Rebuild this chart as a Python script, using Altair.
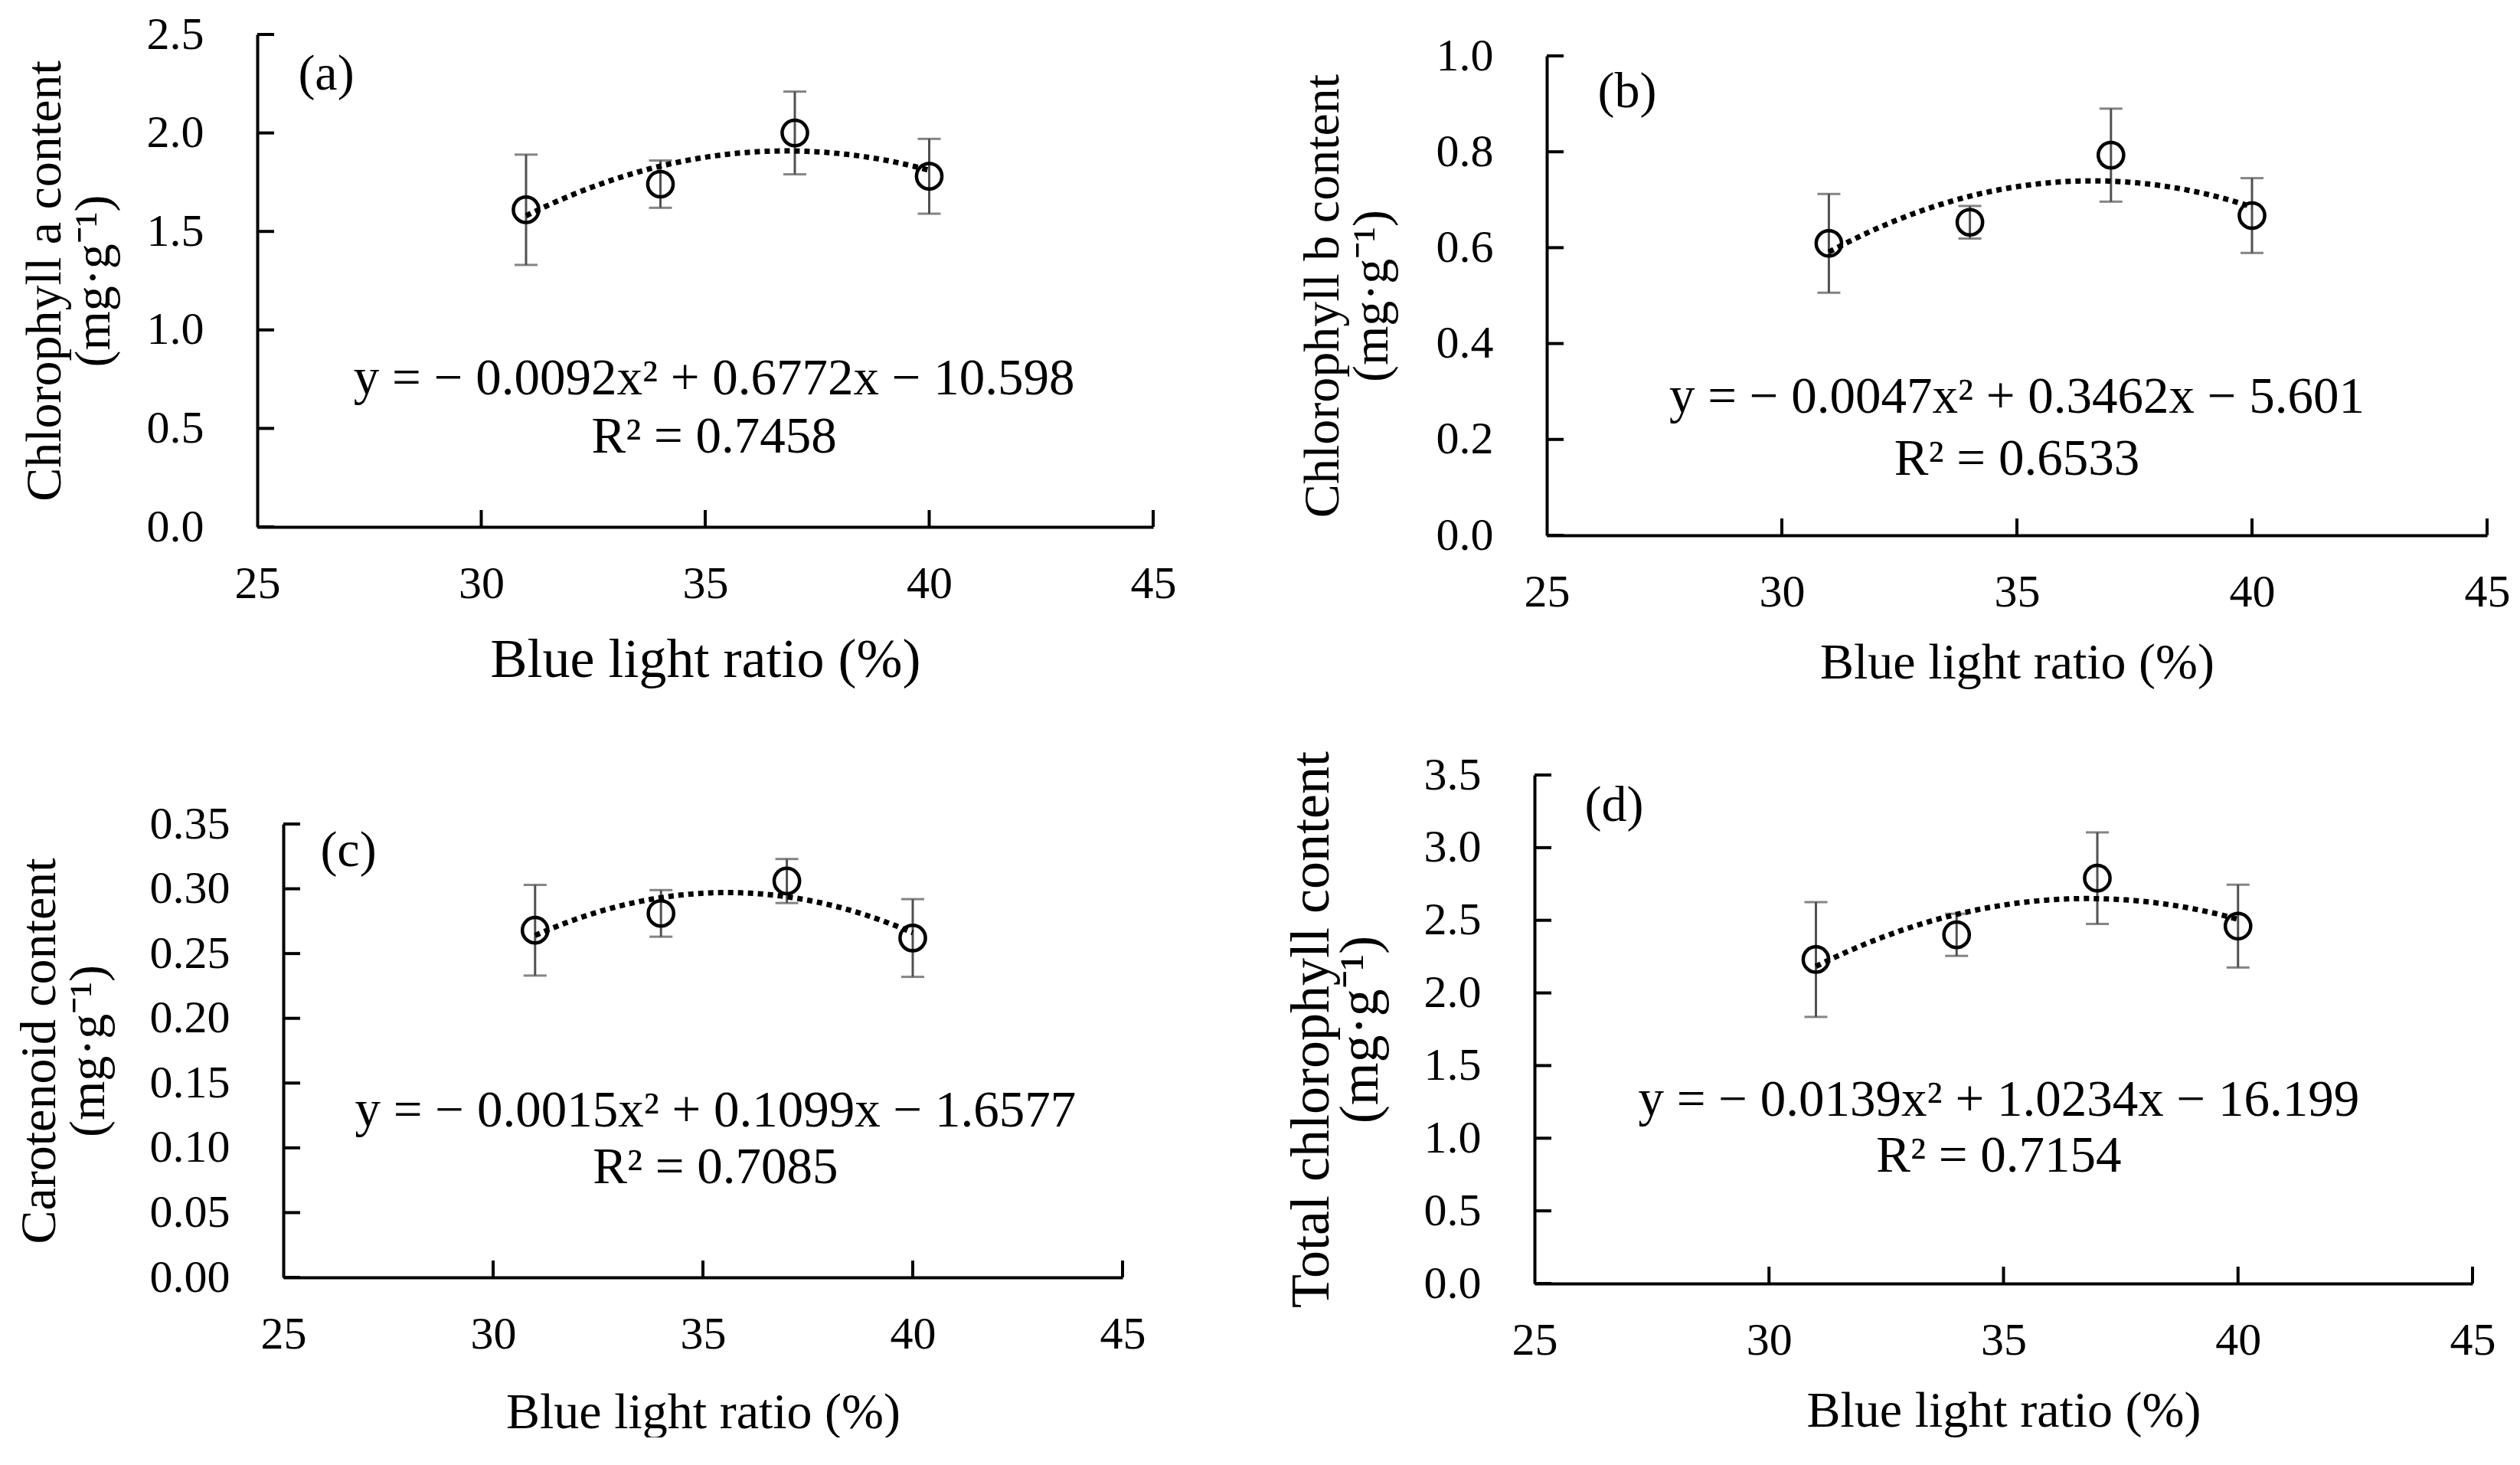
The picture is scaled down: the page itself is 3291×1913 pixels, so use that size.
import altair as alt
import pandas as pd

FONT = "Liberation Serif"

blue_ratio = [31, 34, 37, 40]
x_ticks = [25, 30, 35, 40, 45]

# (a) chlorophyll a
chl_a = [1.61, 1.74, 2.00, 1.78]
chl_a_err = [0.28, 0.12, 0.21, 0.19]
chl_a_ticks = [0.0, 0.5, 1.0, 1.5, 2.0, 2.5]

# (b) chlorophyll b
chl_b = [0.609, 0.653, 0.793, 0.667]
chl_b_err = [0.103, 0.034, 0.097, 0.078]
chl_b_ticks = [0.0, 0.2, 0.4, 0.6, 0.8, 1.0]

# (c) carotenoid
carot = [0.268, 0.281, 0.306, 0.262]
carot_err = [0.035, 0.018, 0.017, 0.030]
carot_ticks = [0.0, 0.05, 0.10, 0.15, 0.20, 0.25, 0.30, 0.35]

# (d) total chlorophyll
total = [2.23, 2.40, 2.79, 2.46]
total_err = [0.395, 0.145, 0.315, 0.285]
total_ticks = [0.0, 0.5, 1.0, 1.5, 2.0, 2.5, 3.0, 3.5]

equations = [
    "y = − 0.0092x² + 0.6772x − 10.598",
    "y = − 0.0047x² + 0.3462x − 5.601",
    "y = − 0.0015x² + 0.1099x − 1.6577",
    "y = − 0.0139x² + 1.0234x − 16.199",
]
r_squared = ["R² = 0.7458", "R² = 0.6533", "R² = 0.7085", "R² = 0.7154"]
panel_labels = ["(a)", "(b)", "(c)", "(d)"]
y_titles = [
    ["Chlorophyll a content", "(mg·g⁻¹)"],
    ["Chlorophyll b content", "(mg·g⁻¹)"],
    ["Carotenoid content", "(mg·g⁻¹)"],
    ["Total chlorophyll content", "(mg·g⁻¹)"],
]
# where the equation / R² text sits, in data units
eq_x = [35.2, 35.0, 35.3, 34.9]
eq_y = [0.75, 0.288, 0.128, 1.26]
r2_y = [0.455, 0.158, 0.0845, 0.875]


def panel(i, values, errs, ticks, fmt, w, h, xfs, yfs, lab_pos,
          dx=0, dy=0, xpad=30, ypad=20):
    # dx / dy: empty room left / above the plot inside this panel's cell
    df = pd.DataFrame({"x": blue_ratio, "y": values, "err": errs})
    W, H = w + dx, h + dy
    xs = alt.Scale(domain=[25, 45], nice=False, zero=False, range=[dx, W])
    ys = alt.Scale(domain=[ticks[0], ticks[-1]], nice=False, zero=False,
                   range=[H, dy])

    x_axis = alt.Axis(values=x_ticks, ticks=False, grid=False, labelPadding=45,
                      labelFont=FONT, titleFont=FONT,
                      labelFontSize=60, titleFontSize=xfs, titlePadding=xpad,
                      titleFontWeight="normal", labelFlush=False,
                      domainColor="black", domainWidth=4,
                      labelColor="black", titleColor="black")
    y_axis = alt.Axis(values=ticks, format=fmt, ticks=False, grid=False,
                      labelFont=FONT, titleFont=FONT, offset=-dx,
                      labelPadding=70, labelFontSize=60, titleFontSize=yfs,
                      titleFontWeight="normal", titlePadding=ypad,
                      titleLineHeight=64, labelFlush=False,
                      domainColor="black", domainWidth=4,
                      labelColor="black", titleColor="black")

    def xq(f):
        return alt.X(f + ":Q", scale=xs, axis=x_axis, title="Blue light ratio (%)")

    def yq(f):
        return alt.Y(f + ":Q", scale=ys, axis=y_axis, title=y_titles[i])

    base = alt.Chart(df).transform_calculate(
        lo="datum.y - datum.err", hi="datum.y + datum.err")

    bars = base.mark_rule(color="#505050", strokeWidth=3).encode(
        x=xq("x"), y=yq("lo"), y2="hi:Q")
    cap_lo = base.mark_tick(color="#505050", orient="horizontal", size=30,
                            thickness=3).encode(x=xq("x"), y=yq("lo"))
    cap_hi = base.mark_tick(color="#505050", orient="horizontal", size=30,
                            thickness=3).encode(x=xq("x"), y=yq("hi"))

    trend = alt.Chart(df).transform_regression(
        "x", "y", method="poly", order=2
    ).mark_line(color="black", strokeWidth=7, strokeDash=[7, 6]).encode(
        x=xq("x"), y=yq("y"))

    points = alt.Chart(df).mark_point(shape="circle", filled=False, size=1100,
                                      strokeWidth=4.5, color="black",
                                      opacity=1).encode(x=xq("x"), y=yq("y"))

    yt = alt.Chart(pd.DataFrame({"y": ticks})).mark_rule(
        color="black", strokeWidth=4).encode(
        y=yq("y"), x=alt.value(dx), x2=alt.value(dx + 22))
    xt = alt.Chart(pd.DataFrame({"x": x_ticks[1:]})).mark_rule(
        color="black", strokeWidth=4).encode(
        x=xq("x"), y=alt.value(H), y2=alt.value(H - 22))

    ann = pd.DataFrame({"x": [eq_x[i], eq_x[i]], "y": [eq_y[i], r2_y[i]],
                        "t": [equations[i], r_squared[i]]})
    text = alt.Chart(ann).mark_text(font=FONT, fontSize=67, color="black",
                                    baseline="middle").encode(
        x=xq("x"), y=yq("y"), text="t:N")

    lab = alt.Chart(pd.DataFrame({"t": [panel_labels[i]]})).mark_text(
        font=FONT, fontSize=66, color="black", baseline="middle").encode(
        x=alt.value(dx + lab_pos[0]), y=alt.value(dy + lab_pos[1]), text="t:N")

    layer = alt.layer(bars, cap_lo, cap_hi, trend, points, yt, xt, text, lab)
    return layer.properties(width=W, height=H)


pa = panel(0, chl_a, chl_a_err, chl_a_ticks, ".1f", 1170, 643, 72, 66,
           (90, 52), xpad=34, ypad=35)
pb = panel(1, chl_b, chl_b_err, chl_b_ticks, ".1f", 1228, 626, 66, 66,
           (105, 47), dy=28, ypad=50)
pc = panel(2, carot, carot_err, carot_ticks, ".2f", 1096, 592, 66, 66,
           (85, 35), dx=34, dy=64, xpad=40, ypad=46)
pd_ = panel(3, total, total_err, total_ticks, ".1f", 1225, 664, 66, 72,
            (104, 40), ypad=46)

chart = alt.vconcat(
    alt.hconcat(pa, pb, spacing=158),
    alt.hconcat(pc, pd_, spacing=180),
    spacing=82,
).properties(
    padding={"left": 10, "top": 7, "right": 0, "bottom": 0},
    background="white",
).configure_view(
    strokeWidth=0
)

chart.save("out.html", embed_options={"renderer": "svg", "actions": False})
